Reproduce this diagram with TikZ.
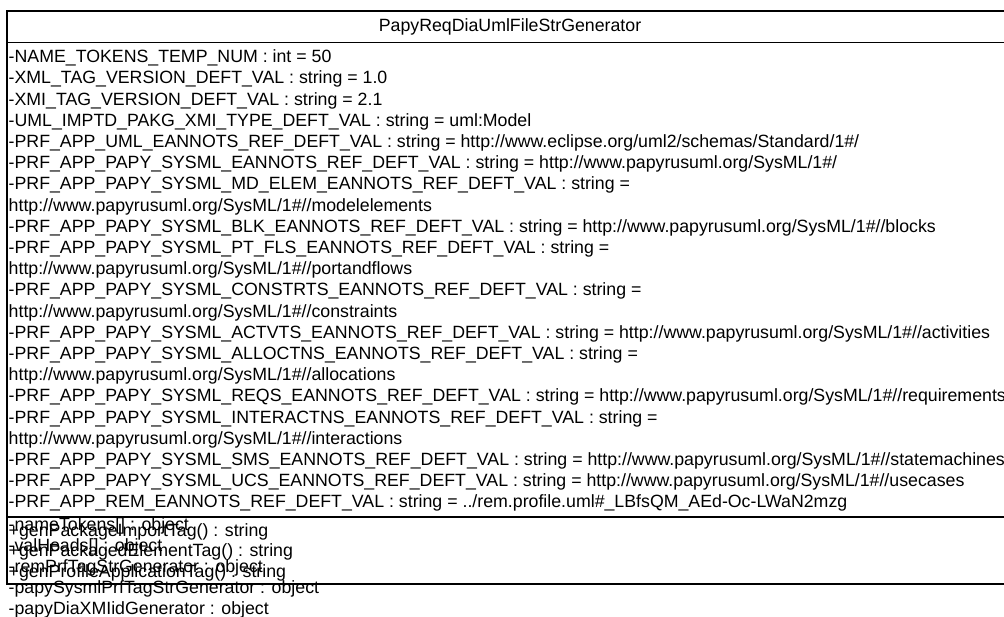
\documentclass[tikz,border=0pt]{standalone}
\usepackage{fontspec}
\setmainfont{Liberation Sans}
\begin{document}
\begin{tikzpicture}[x=1pt,y=-1pt,
  member/.style={anchor=base west,inner sep=0pt,font=\fontsize{17.75}{21}\selectfont},
  classname/.style={anchor=base,inner sep=0pt,font=\fontsize{17.75}{21}\selectfont},
  frame/.style={draw=black,line width=1.6pt}]
\useasboundingbox (0,0) rectangle (1004,617);
\clip (0,0) rectangle (1004,617);

% class frame and compartment separators
\coordinate (tl) at (7,11);
\coordinate (br) at (1013,584);
\coordinate (s1l) at (7,42.7);
\coordinate (s1r) at (1013,42.7);
\coordinate (s2l) at (7,516.7);
\coordinate (s2r) at (1013,516.7);
\draw[frame] (tl) rectangle (br);
\draw[frame] (s1l) -- (s1r);
\draw[frame] (s2l) -- (s2r);

% class name
\node[classname] (name) at (510,32) {PapyReqDiaUmlFileStrGenerator};

% attribute compartment
\node[member] (a01) at (8.5,62.7)  {-NAME\_TOKENS\_TEMP\_NUM : int = 50};
\node[member] (a02) at (8.5,83.9)  {-XML\_TAG\_VERSION\_DEFT\_VAL : string = 1.0};
\node[member] (a03) at (8.5,105.1) {-XMI\_TAG\_VERSION\_DEFT\_VAL : string = 2.1};
\node[member] (a04) at (8.5,126.3) {-UML\_IMPTD\_PAKG\_XMI\_TYPE\_DEFT\_VAL : string = uml:Model};
\node[member] (a05) at (8.5,147.5) {-PRF\_APP\_UML\_EANNOTS\_REF\_DEFT\_VAL : string = http://www.eclipse.org/uml2/schemas/Standard/1\#/};
\node[member] (a06) at (8.5,168.7) {-PRF\_APP\_PAPY\_SYSML\_EANNOTS\_REF\_DEFT\_VAL : string = http://www.papyrusuml.org/SysML/1\#/};
\node[member] (a07) at (8.5,189.9) {-PRF\_APP\_PAPY\_SYSML\_MD\_ELEM\_EANNOTS\_REF\_DEFT\_VAL : string =};
\node[member] (a08) at (8.5,211.1) {http://www.papyrusuml.org/SysML/1\#//modelelements};
\node[member] (a09) at (8.5,232.3) {-PRF\_APP\_PAPY\_SYSML\_BLK\_EANNOTS\_REF\_DEFT\_VAL : string = http://www.papyrusuml.org/SysML/1\#//blocks};
\node[member] (a10) at (8.5,253.5) {-PRF\_APP\_PAPY\_SYSML\_PT\_FLS\_EANNOTS\_REF\_DEFT\_VAL : string =};
\node[member] (a11) at (8.5,274.7) {http://www.papyrusuml.org/SysML/1\#//portandflows};
\node[member] (a12) at (8.5,295.9) {-PRF\_APP\_PAPY\_SYSML\_CONSTRTS\_EANNOTS\_REF\_DEFT\_VAL : string =};
\node[member] (a13) at (8.5,317.1) {http://www.papyrusuml.org/SysML/1\#//constraints};
\node[member] (a14) at (8.5,338.3) {-PRF\_APP\_PAPY\_SYSML\_ACTVTS\_EANNOTS\_REF\_DEFT\_VAL : string = http://www.papyrusuml.org/SysML/1\#//activities};
\node[member] (a15) at (8.5,359.5) {-PRF\_APP\_PAPY\_SYSML\_ALLOCTNS\_EANNOTS\_REF\_DEFT\_VAL : string =};
\node[member] (a16) at (8.5,380.7) {http://www.papyrusuml.org/SysML/1\#//allocations};
\node[member] (a17) at (8.5,401.9) {-PRF\_APP\_PAPY\_SYSML\_REQS\_EANNOTS\_REF\_DEFT\_VAL : string = http://www.papyrusuml.org/SysML/1\#//requirements};
\node[member] (a18) at (8.5,423.1) {-PRF\_APP\_PAPY\_SYSML\_INTERACTNS\_EANNOTS\_REF\_DEFT\_VAL : string =};
\node[member] (a19) at (8.5,444.3) {http://www.papyrusuml.org/SysML/1\#//interactions};
\node[member] (a20) at (8.5,465.5) {-PRF\_APP\_PAPY\_SYSML\_SMS\_EANNOTS\_REF\_DEFT\_VAL : string = http://www.papyrusuml.org/SysML/1\#//statemachines};
\node[member] (a21) at (8.5,486.7) {-PRF\_APP\_PAPY\_SYSML\_UCS\_EANNOTS\_REF\_DEFT\_VAL : string = http://www.papyrusuml.org/SysML/1\#//usecases};
\node[member] (a22) at (8.5,507.9) {-PRF\_APP\_REM\_EANNOTS\_REF\_DEFT\_VAL : string = ../rem.profile.uml\#\_LBfsQM\_AEd-Oc-LWaN2mzg};

% object-valued attributes (spilling over the operation compartment)
\node[member] (b1) at (8.5,530) {-nameTokens[] : object};
\node[member] (b2) at (8.5,551) {-valHeads[] : object};
\node[member] (b3) at (8.5,572) {-remPrfTagStrGenerator : object};
\node[member] (b4) at (8.5,593) {-papySysmlPrfTagStrGenerator : object};
\node[member] (b5) at (8.5,614) {-papyDiaXMIidGenerator : object};

% operation compartment
\node[member] (m1) at (8.5,536)   {+genPackageImportTag() : string};
\node[member] (m2) at (8.5,556.5) {+genPackagedElementTag() : string};
\node[member] (m3) at (8.5,577)   {+genProfileApplicationTag() : string};
\end{tikzpicture}
\end{document}
